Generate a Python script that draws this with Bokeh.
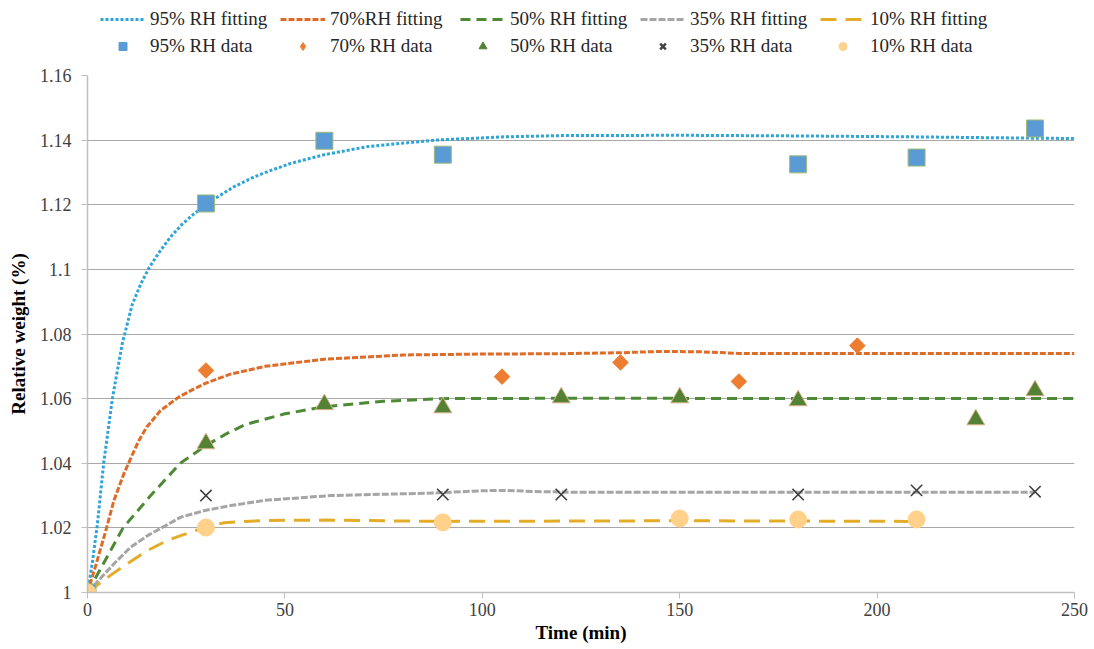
from bokeh.plotting import figure
from bokeh.layouts import column
from bokeh.models import Range1d, Legend, LegendItem, FixedTicker, NumeralTickFormatter
from bokeh.embed import file_html
from bokeh.resources import INLINE

# ---- measured data ----
t95 = [0, 30, 60, 90, 180, 210, 240]
w95 = [1.000, 1.1204, 1.1398, 1.1355, 1.1325, 1.1346, 1.1436]
t70 = [0, 30, 105, 135, 165, 195]
w70 = [1.000, 1.0687, 1.0668, 1.0712, 1.0653, 1.0764]
t50 = [0, 30, 60, 90, 120, 150, 180, 225, 240]
w50 = [1.000, 1.0461, 1.0582, 1.0572, 1.0603, 1.0603, 1.0594, 1.0535, 1.0625]
t35 = [0, 30, 90, 120, 180, 210, 240]
w35 = [1.000, 1.0300, 1.0303, 1.0303, 1.0303, 1.0316, 1.0312]
t10 = [0, 30, 90, 150, 180, 210]
w10 = [1.000, 1.0201, 1.0217, 1.0229, 1.0226, 1.0226]

# ---- fitted curves ----
ft95 = [0, 1.2, 2.5, 4.1, 6.3, 8.8, 11.3, 13.5, 15.6, 18, 21, 24, 27, 29.5, 32, 37, 42, 45.5,
        51.5, 60, 71, 88, 105, 120, 150, 180, 210, 240, 250]
fw95 = [1.000, 1.009, 1.021, 1.040, 1.060, 1.077, 1.089, 1.0955, 1.1005, 1.1050, 1.1100, 1.1140,
        1.1172, 1.1195, 1.1217, 1.1255, 1.1285, 1.1302, 1.1328, 1.1355, 1.1380, 1.1400, 1.1410,
        1.1414, 1.1415, 1.1413, 1.1410, 1.1406, 1.1405]
ft70 = [0, 2, 4.6, 6.7, 9.2, 11.3, 13, 15, 18.5, 23, 27, 30, 36, 45, 60, 80, 100, 120, 135, 145, 155, 165, 200, 250]
fw70 = [1.000, 1.008, 1.019, 1.0285, 1.0367, 1.0425, 1.047, 1.0512, 1.0563, 1.0604, 1.0630, 1.0648,
        1.0675, 1.0700, 1.0722, 1.0735, 1.0738, 1.0739, 1.0742, 1.0746, 1.0745, 1.0740, 1.0740, 1.0740]
ft50 = [0, 4.5, 9, 16, 23.5, 30, 35, 40, 50, 60, 75, 90, 120, 250]
fw50 = [1.000, 1.010, 1.020, 1.030, 1.040, 1.0455, 1.049, 1.0520, 1.0553, 1.0575, 1.0592, 1.0600, 1.0601, 1.0600]
ft35 = [0, 6.7, 10.9, 15.2, 19.8, 23.6, 29.8, 36.3, 44.8, 61.7, 88, 100, 105, 115, 125, 240]
fw35 = [1.000, 1.0089, 1.0140, 1.0176, 1.0207, 1.0233, 1.0254, 1.0269, 1.0285, 1.0300, 1.0308,
        1.0315, 1.0316, 1.0312, 1.0310, 1.0310]
ft10 = [0, 5.8, 10.1, 15.2, 20.2, 23.6, 29.8, 34.6, 44.8, 60, 90, 150, 210]
fw10 = [1.000, 1.0053, 1.0089, 1.0130, 1.0161, 1.0176, 1.0202, 1.0216, 1.0223, 1.0224, 1.0220, 1.0222, 1.0220]

y_ticks = [1.0, 1.02, 1.04, 1.06, 1.08, 1.10, 1.12, 1.14, 1.16]
x_ticks = [0, 50, 100, 150, 200, 250]
fit_labels = ["95% RH fitting", "70%RH fitting", "50% RH fitting", "35% RH fitting", "10% RH fitting"]
data_labels = ["95% RH data", "70% RH data", "50% RH data", "35% RH data", "10% RH data"]

SERIF = "Liberation Serif"
LW = 3
line_styles = [
    dict(line_color="#2FA4D6", line_width=LW, line_dash="3 2"),
    dict(line_color="#DE6B27", line_width=LW, line_dash="6 2"),
    dict(line_color="#4E8A35", line_width=LW, line_dash="10 6"),
    dict(line_color="#A5A5A5", line_width=LW, line_dash="7 2"),
    dict(line_color="#E3AC29", line_width=LW, line_dash="16 9"),
]
marker_styles = [
    dict(marker="square", size=17, fill_color="#5B9BD5", line_color="#9DBB7A", line_width=1),
    dict(marker="square", angle=0.785398, size=11, fill_color="#ED7D31", line_color="#ED7D31"),
    dict(marker="triangle", size=18, fill_color="#548235", line_color="#D9B38C", line_width=1),
    dict(marker="x", size=16, line_color="#404040", line_width=1.6),
    dict(marker="circle", size=17, fill_color="#FFD18A", line_color="#FFD18A"),
]
legend_marker_styles = [
    dict(marker="square", fill_color="#5B9BD5", line_color="#5B9BD5"),
    dict(marker="diamond", fill_color="#ED7D31", line_color="#ED7D31"),
    dict(marker="triangle", fill_color="#548235", line_color="#548235"),
    dict(marker="x", line_color="#404040", line_width=2.5),
    dict(marker="circle", fill_color="#FFD18A", line_color="#FFD18A"),
]

# ---- main plot ----
p = figure(width=1094, height=584, output_backend="svg", toolbar_location=None,
           x_range=Range1d(0, 250), y_range=Range1d(1.0, 1.16),
           min_border_left=87, min_border_right=20, min_border_top=10, min_border_bottom=57)
p.outline_line_color = None
p.background_fill_color = "white"
p.xgrid.grid_line_color = None
p.ygrid.grid_line_color = "#A8A8A8"
p.ygrid.ticker = FixedTicker(ticks=y_ticks)

p.axis.axis_line_color = "#BFBFBF"
p.axis.axis_line_width = 1.5
p.axis.major_tick_line_color = "#BFBFBF"
p.axis.major_tick_out = 6
p.axis.major_tick_in = 0
p.axis.minor_tick_line_color = None
p.axis.major_label_text_font = SERIF
p.axis.major_label_text_font_size = "18px"
p.axis.major_label_text_color = "#404040"
p.axis.axis_label_text_font = SERIF
p.axis.axis_label_text_font_style = "bold"
p.axis.axis_label_text_font_size = "19px"
p.axis.axis_label_text_color = "black"

p.xaxis.ticker = FixedTicker(ticks=x_ticks)
p.xaxis.major_label_standoff = 4
p.xaxis.axis_label = "Time (min)"
p.xaxis.axis_label_standoff = 3
p.yaxis.ticker = FixedTicker(ticks=y_ticks)
p.yaxis.formatter = NumeralTickFormatter(format="0.[00]")
p.yaxis.major_label_standoff = 10
p.yaxis.axis_label = "Relative weight (%)"
p.yaxis.axis_label_standoff = 8

for (ft, fw), st in zip([(ft95, fw95), (ft70, fw70), (ft50, fw50), (ft35, fw35), (ft10, fw10)], line_styles):
    p.line(ft, fw, **st)
for (t, w), st in zip([(t95, w95), (t70, w70), (t50, w50), (t35, w35), (t10, w10)], marker_styles):
    p.scatter(t, w, **st)

# ---- legend strip above the plot (dummy renderers placed outside the visible range) ----
lg = figure(width=1094, height=65, output_backend="svg", toolbar_location=None,
            x_range=Range1d(0, 1), y_range=Range1d(0, 1),
            min_border_left=0, min_border_right=0, min_border_top=0, min_border_bottom=0)
lg.axis.visible = False
lg.grid.visible = False
lg.outline_line_color = None
fit_r = [lg.line([-5, -4], [-5, -5], **st) for st in line_styles]
dat_r = [lg.scatter([-5], [-5], **st) for st in legend_marker_styles]
items = [LegendItem(label=l, renderers=[r]) for l, r in zip(fit_labels, fit_r)] + \
        [LegendItem(label=l, renderers=[r]) for l, r in zip(data_labels, dat_r)]
legend = Legend(items=items, orientation="horizontal", ncols=5, location=(13, 8),
                padding=0, margin=0, spacing=5, glyph_width=45, glyph_height=20,
                label_height=20, label_width=125, label_standoff=5,
                label_text_font=SERIF, label_text_font_size="19px", label_text_color="#262626",
                background_fill_alpha=0, border_line_color=None)
lg.add_layout(legend, "center")

open("out.html", "w").write(file_html(column(lg, p, spacing=0), INLINE))
